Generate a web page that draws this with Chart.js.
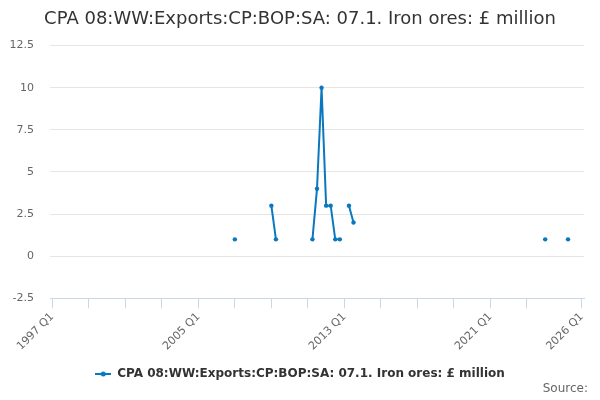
<!DOCTYPE html>
<html>
<head>
<meta charset="utf-8">
<script src="https://cdn.jsdelivr.net/npm/chart.js@4"></script>
<style>
  html, body { margin: 0; padding: 0; background: #fff; }
  #wrap { position: relative; width: 600px; height: 400px; }
  #source { position: absolute; right: 12px; top: 381px; font: 12px "DejaVu Sans", sans-serif; color: #666; }
</style>
</head>
<body>
<div id="wrap">
  <canvas id="c" width="600" height="400"></canvas>
  <div id="source">Source:</div>
</div>
<script>
// ---- data ----
const titleText = 'CPA 08:WW:Exports:CP:BOP:SA: 07.1. Iron ores: £ million';
const seriesName = 'CPA 08:WW:Exports:CP:BOP:SA: 07.1. Iron ores: £ million';
const firstYear = 1997;
const lastYear = 2026; // axis ends at 2026 Q1
const pointQuarters = ['2007 Q1', '2009 Q1', '2009 Q2', '2011 Q2', '2011 Q3', '2011 Q4',
                       '2012 Q1', '2012 Q2', '2012 Q3', '2012 Q4', '2013 Q2', '2013 Q3',
                       '2024 Q1', '2025 Q2'];
const pointValues   = [1, 3, 1, 1, 4, 10, 3, 3, 1, 1, 3, 2, 1, 1];
const tickLabels = ['1997 Q1', '2005 Q1', '2013 Q1', '2021 Q1', '2026 Q1'];
const tickMarks = ['1997 Q1', '1999 Q1', '2001 Q1', '2003 Q1', '2005 Q1', '2007 Q1', '2009 Q1',
                   '2011 Q1', '2013 Q1', '2015 Q1', '2017 Q1', '2019 Q1', '2021 Q1', '2023 Q1', '2026 Q1'];
const yMin = -2.5, yMax = 12.5, yStep = 2.5;

// ---- build categories ----
const categories = [];
for (let y = firstYear; y <= lastYear; y++) {
  for (let q = 1; q <= 4; q++) {
    categories.push(y + ' Q' + q);
    if (y === lastYear) break;
  }
}
const series = categories.map(c => {
  const i = pointQuarters.indexOf(c);
  return i >= 0 ? pointValues[i] : null;
});

const lineColor = '#0a78be';
// legend symbol: line with dot
const sym = document.createElement('canvas');
sym.width = 16; sym.height = 12;
(function () {
  const g = sym.getContext('2d');
  g.strokeStyle = lineColor; g.lineWidth = 2;
  g.beginPath(); g.moveTo(0, 6); g.lineTo(16, 6); g.stroke();
  g.fillStyle = lineColor;
  g.beginPath(); g.arc(8, 6, 2.5, 0, Math.PI * 2); g.fill();
})();

const FONT = '"DejaVu Sans", Verdana, sans-serif';

new Chart(document.getElementById('c'), {
  type: 'line',
  data: {
    labels: categories,
    datasets: [{
      label: seriesName,
      data: series,
      borderColor: lineColor,
      backgroundColor: lineColor,
      borderWidth: 2,
      pointRadius: 2.2,
      pointHoverRadius: 3,
      pointBorderWidth: 0,
      spanGaps: false,
      tension: 0
    }]
  },
  options: {
    responsive: false,
    animation: false,
    devicePixelRatio: 1,
    layout: { padding: { left: 0, right: 0, top: 0, bottom: 10 } },
    plugins: {
      title: {
        display: true,
        text: titleText,
        color: '#333333',
        font: { family: FONT, size: 18, weight: 'normal' },
        padding: { top: 9, bottom: 15 }
      },
      legend: {
        position: 'bottom',
        labels: {
          usePointStyle: true,
          pointStyle: sym,
          pointStyleWidth: 16,
          boxHeight: 12,
          color: '#333333',
          font: { family: FONT, size: 12, weight: 'bold' },
          padding: 13
        }
      },
      tooltip: { enabled: false }
    },
    scales: {
      x: {
        type: 'category',
        offset: true,
        grid: {
          display: true,
          offset: false,
          drawOnChartArea: false,
          drawTicks: true,
          tickLength: 10,
          color: '#ccd6eb'
        },
        border: { display: true, color: '#ccd6eb', width: 1 },
        ticks: {
          autoSkip: false,
          minRotation: 45,
          maxRotation: 45,
          padding: 2,
          color: '#666666',
          font: { family: FONT, size: 11 },
          callback: function (val, idx) {
            const lab = categories[idx];
            if (tickMarks.indexOf(lab) < 0) return null;
            return tickLabels.indexOf(lab) >= 0 ? lab : '';
          }
        }
      },
      y: {
        min: yMin,
        max: yMax,
        afterFit: function (s) { s.width = 50; },
        grid: { color: '#e6e6e6', drawTicks: false },
        border: { display: false },
        ticks: {
          stepSize: yStep,
          padding: 16,
          color: '#666666',
          font: { family: FONT, size: 11 }
        }
      },
      yRightSpace: {
        position: 'right',
        display: true,
        afterFit: function (s) { s.width = 16; },
        grid: { display: false, drawTicks: false },
        border: { display: false },
        ticks: { display: false }
      }
    }
  }
});
</script>
</body>
</html>
